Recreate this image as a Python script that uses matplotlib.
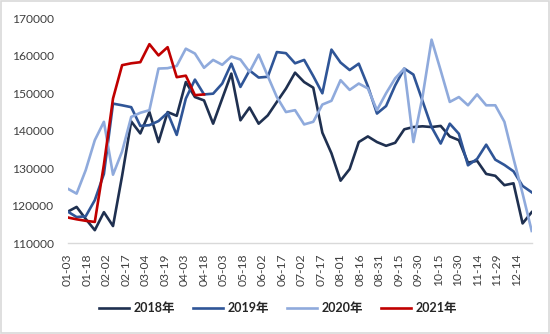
import numpy as np
import matplotlib.pyplot as plt
from matplotlib.patches import Rectangle

# 周度数据，每年从 01-03 起共 52 周
tick_labels = ['01-03', '01-18', '02-02', '02-17', '03-04', '03-19', '04-03', '04-18',
               '05-03', '05-18', '06-02', '06-17', '07-02', '07-17', '08-01', '08-16',
               '08-31', '09-15', '09-30', '10-15', '10-30', '11-14', '11-29', '12-14']

y2018 = [118400, 119700, 116500, 113500, 118300, 114600, 128000, 142500, 139300, 145000,
         137000, 145000, 144000, 153000, 149000, 148100, 141900, 148600, 155250, 142800,
         146200, 141900, 144100, 147700, 151250, 155500, 153000, 151500, 139500, 134000,
         126700, 129800, 137000, 138500, 137000, 136000, 136800, 140400, 141000, 141200,
         141000, 141300, 138500, 137500, 131500, 132000, 128500, 128000, 125500, 126000,
         115300, 118300]

y2019 = [118500, 117000, 117200, 121500, 128500, 147250, 146800, 146300, 141300, 141500,
         142600, 144800, 138900, 148600, 153650, 149700, 149900, 152600, 157900, 151700,
         156100, 154200, 154400, 161000, 160700, 158000, 158900, 154600, 150000, 161650,
         158200, 156200, 157900, 151900, 144600, 146600, 152100, 156600, 155000, 148000,
         141000, 136600, 141900, 139200, 130800, 132500, 136300, 132300, 130900, 129200,
         125300, 123600]

y2020 = [124600, 123250, 129500, 137500, 142400, 128300, 134500, 143700, 144800, 145500,
         156600, 156700, 157300, 161900, 160600, 156800, 158900, 157600, 159800, 159000,
         155700, 160300, 154600, 149000, 145000, 145500, 141700, 142400, 147000, 148000,
         153500, 150900, 152600, 151300, 145500, 150000, 154000, 156600, 137000, 149000,
         164300, 156100, 147700, 149000, 146800, 149700, 146800, 146800, 142400, 132600,
         123250, 113300]

y2021 = [116900, 116400, 116000, 115700, 131000, 148600, 157500, 158000, 158300, 163100,
         160100, 162300, 154300, 154700, 149500, 149700]

series = [('2018年', y2018, '#1F3050'),
          ('2019年', y2019, '#2F5597'),
          ('2020年', y2020, '#8FAADC'),
          ('2021年', y2021, '#C00000')]

fig = plt.figure(figsize=(5.5, 3.34), dpi=100)
ax = fig.add_axes([67.5 / 550, 1 - 243.3 / 334, (531.7 - 67.5) / 550, 225 / 334])

for name, vals, color in series:
    days = np.arange(len(vals)) * 7
    ax.plot(days, vals, color=color, lw=1.9, label=name)

ax.set_xlim(0, 357)
ax.set_ylim(110000, 170000)
ax.set_yticks(range(110000, 170001, 10000))
ax.set_xticks(np.arange(len(tick_labels)) * 15)
ax.set_xticklabels(tick_labels, rotation=90)

font = 'Lato'
for lab in ax.get_xticklabels() + ax.get_yticklabels():
    lab.set_family(font)
ax.tick_params(length=0, labelsize=8.7, colors='#404040')
ax.tick_params(axis='y', pad=10)
ax.tick_params(axis='x', pad=7.5)

for side in ['top', 'right', 'left']:
    ax.spines[side].set_visible(False)
ax.spines['bottom'].set_color('#D9D9D9')
ax.spines['bottom'].set_linewidth(1.0)

fig.legend(ncol=4, loc='center', bbox_to_anchor=(0.505, 0.078), frameon=False,
           prop=dict(family=[font, 'Noto Sans CJK SC'], weight='bold', size=9),
           handlelength=2.4, handletextpad=0.4, columnspacing=1.4, labelcolor='#262626')

# 图表外框
fig.patches.append(Rectangle((0.002, 0.003), 0.996, 0.994, transform=fig.transFigure,
                             fill=False, edgecolor='#D9D9D9', lw=1.2))

fig.savefig('out.png', dpi=100)
